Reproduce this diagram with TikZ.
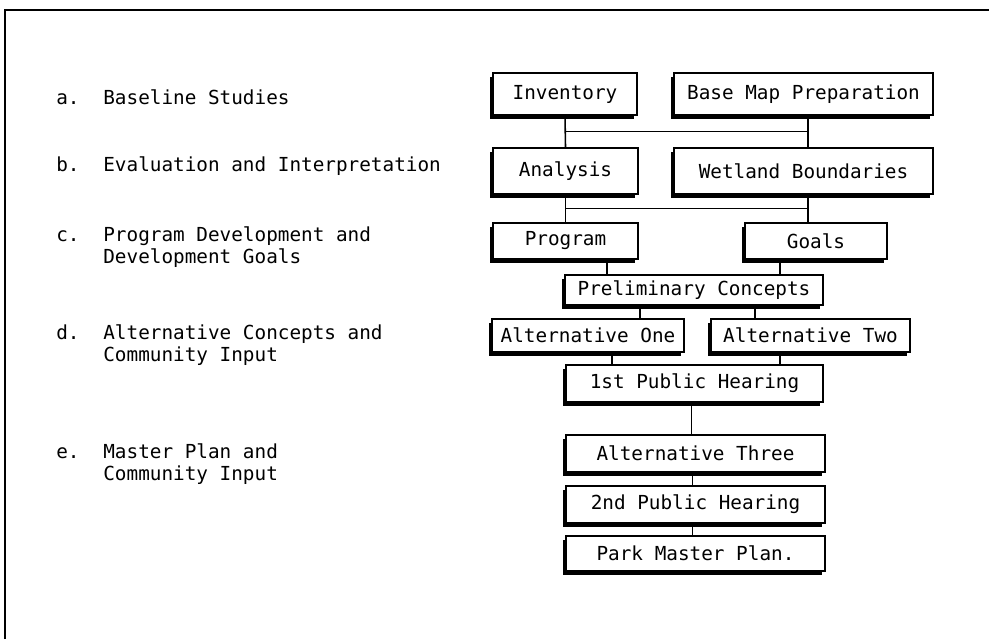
\documentclass[tikz,border=0pt]{standalone}
\usepackage{fontspec}
\setmainfont{DejaVu Sans Mono}
\usetikzlibrary{shadows,calc}

\begin{document}
\begin{tikzpicture}[
  stage/.style={draw,line width=1.1pt,fill=white,inner sep=0pt,
    drop shadow={shadow xshift=-0.07cm,shadow yshift=-0.07cm,opacity=1,fill=black}},
  phase/.style={anchor=base west,inner sep=0pt},
  link/.style={line width=0.9pt},
  font=\fontsize{11}{13}\selectfont]
\useasboundingbox (0.000,0.000) rectangle (19.780,-12.780);
\draw[line width=1.4pt] (0.100,-12.780) -- (0.100,-0.200) -- (19.780,-0.200);

% phases on the left
\node[phase] (pa) at (1.120,-2.080) {\begin{tabular}[t]{@{}p{0.94cm}@{}l@{}}a. & Baseline Studies\end{tabular}};
\node[phase] (pb) at (1.120,-3.420) {\begin{tabular}[t]{@{}p{0.94cm}@{}l@{}}b. & Evaluation and Interpretation\end{tabular}};
\node[phase] (pc) at (1.120,-4.820) {\begin{tabular}[t]{@{}p{0.94cm}@{}l@{}}c. & Program Development and\\ & Development Goals\end{tabular}};
\node[phase] (pd) at (1.120,-6.780) {\begin{tabular}[t]{@{}p{0.94cm}@{}l@{}}d. & Alternative Concepts and\\ & Community Input\end{tabular}};
\node[phase] (pe) at (1.120,-9.160) {\begin{tabular}[t]{@{}p{0.94cm}@{}l@{}}e. & Master Plan and\\ & Community Input\end{tabular}};

% flow chart
\node[stage,minimum width=2.880cm,minimum height=0.840cm] (inv) at (11.300,-1.880) {Inventory};
\node[stage,minimum width=5.180cm,minimum height=0.840cm] (base) at (16.070,-1.880) {Base Map Preparation};
\node[stage,minimum width=2.900cm,minimum height=0.920cm] (ana) at (11.310,-3.420) {Analysis};
\node[stage,minimum width=5.180cm,minimum height=0.920cm] (wet) at (16.070,-3.420) {Wetland Boundaries};
\node[stage,minimum width=2.900cm,minimum height=0.720cm] (prog) at (11.310,-4.820) {Program};
\node[stage,minimum width=2.840cm,minimum height=0.720cm] (goals) at (16.320,-4.820) {Goals};
\node[stage,minimum width=5.160cm,minimum height=0.600cm] (pre) at (13.880,-5.800) {Preliminary Concepts};
\node[stage,minimum width=3.840cm,minimum height=0.660cm] (alt1) at (11.760,-6.710) {Alternative One};
\node[stage,minimum width=3.980cm,minimum height=0.660cm] (alt2) at (16.210,-6.710) {Alternative Two};
\node[stage,minimum width=5.140cm,minimum height=0.740cm] (pub1) at (13.890,-7.670) {1st Public Hearing};
\node[stage,minimum width=5.180cm,minimum height=0.740cm] (alt3) at (13.910,-9.070) {Alternative Three};
\node[stage,minimum width=5.180cm,minimum height=0.740cm] (pub2) at (13.910,-10.090) {2nd Public Hearing};
\node[stage,minimum width=5.180cm,minimum height=0.700cm] (park) at (13.910,-11.070) {Park Master Plan.};

% connectors
\draw[link] (inv.south) -- (ana.north);
\draw[link] ([xshift=0.090cm]base.south) -- ([xshift=0.090cm]wet.north);
\draw[link] ($(inv.south)!0.5!(ana.north)$) -- ($([xshift=0.090cm]base.south)!0.5!([xshift=0.090cm]wet.north)$);
\draw[link] (ana.south) -- (prog.north);
\draw[link] ([xshift=0.090cm]wet.south) -- ([xshift=0.090cm]wet.south |- goals.north);
\draw[link] ($(ana.south)!0.5!(prog.north)$) -- ($([xshift=0.090cm]wet.south)!0.5!([xshift=0.090cm]wet.south |- goals.north)$);
\draw[link] ([xshift=0.830cm]prog.south) -- ([xshift=0.830cm]prog.south |- pre.north);
\draw[link] ([xshift=-0.720cm]goals.south) -- ([xshift=-0.720cm]goals.south |- pre.north);
\draw[link] ([xshift=-1.080cm]pre.south) -- ([xshift=-1.080cm]pre.south |- alt1.north);
\draw[link] ([xshift=1.220cm]pre.south) -- ([xshift=1.220cm]pre.south |- alt2.north);
\draw[link] ([xshift=0.480cm]alt1.south) -- ([xshift=0.480cm]alt1.south |- pub1.north);
\draw[link] ([xshift=-0.610cm]alt2.south) -- ([xshift=-0.610cm]alt2.south |- pub1.north);
\draw[link] ([xshift=-0.060cm]pub1.south) -- ([xshift=-0.060cm]pub1.south |- alt3.north);
\draw[link] ([xshift=-0.060cm]alt3.south) -- ([xshift=-0.060cm]alt3.south |- pub2.north);
\draw[link] ([xshift=-0.060cm]pub2.south) -- ([xshift=-0.060cm]pub2.south |- park.north);
\end{tikzpicture}
\end{document}
